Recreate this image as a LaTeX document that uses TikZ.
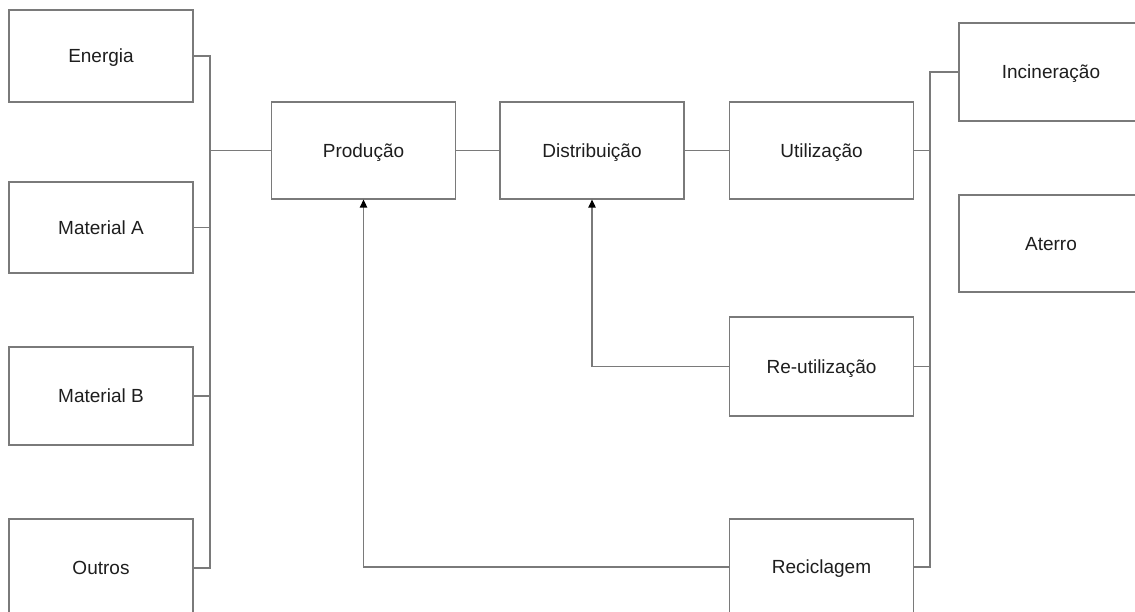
\documentclass[tikz,border=0pt]{standalone}
\usepackage{fontspec}
\setmainfont{Liberation Sans}
\usetikzlibrary{arrows.meta}
\definecolor{edge}{HTML}{7A7A7A}
\definecolor{ink}{HTML}{1E1E1E}
\tikzset{
  box/.style={draw=edge, line width=1.3pt, fill=white, rectangle,
    minimum width=184pt, inner sep=0pt, text=ink,
    text height=13.6pt, text depth=0pt,
    font=\fontsize{19}{22}\selectfont},
  wire/.style={draw=edge, line width=1.3pt},
  feed/.style={wire, -{Triangle[length=8pt, width=7.5pt, color=black]}},
}
\begin{document}
\begin{tikzpicture}[x=1pt, y=-1pt]
  \useasboundingbox (0,0) rectangle (1135,612);
  \clip (0,0) rectangle (1135,612);
  \fill[white] (0,0) rectangle (1135,612);

  % inputs
  \node[box, minimum height=92pt] (energia) at (101,56) {Energia};
  \node[box, minimum height=91pt] (mata) at (101,227.5) {Material A};
  \node[box, minimum height=98pt] (matb) at (101,396) {Material B};
  \node[box, minimum height=98pt] (outros) at (101,568) {Outros};

  % life cycle chain
  \node[box, minimum height=97pt] (prod) at (363.5,150.5) {Produção};
  \node[box, minimum height=97pt] (dist) at (592,150.5) {Distribuição};
  \node[box, minimum height=97pt] (util) at (821.5,150.5) {Utilização};
  \node[box, minimum height=99pt] (reutil) at (821.5,366.5) {Re-utilização};
  \node[box, minimum height=96pt] (recic) at (821.5,567) {Reciclagem};

  % end of life
  \node[box, minimum height=98pt] (incin) at (1051,72) {Incineração};
  \node[box, minimum height=97pt] (aterro) at (1051,243.5) {Aterro};

  % collecting buses
  \coordinate (lbus) at (210,0);
  \coordinate (rbus) at (930,0);

  % inputs into production
  \draw[wire] (energia.east) -- (energia.east -| lbus) -- (outros.east -| lbus) -- (outros.east);
  \draw[wire] (mata.east) -- (mata.east -| lbus);
  \draw[wire] (matb.east) -- (matb.east -| lbus);
  \draw[wire] (prod.west -| lbus) -- (prod.west);

  % main chain
  \draw[wire] (prod.east) -- (dist.west);
  \draw[wire] (dist.east) -- (util.west);

  % outputs of use
  \draw[wire] (incin.west) -- (incin.west -| rbus) -- (recic.east -| rbus) -- (recic.east);
  \draw[wire] (util.east) -- (util.east -| rbus);
  \draw[wire] (reutil.east) -- (reutil.east -| rbus);

  % return loops
  \draw[feed] (reutil.west) -| (dist.south);
  \draw[feed] (recic.west) -| (prod.south);
\end{tikzpicture}
\end{document}
